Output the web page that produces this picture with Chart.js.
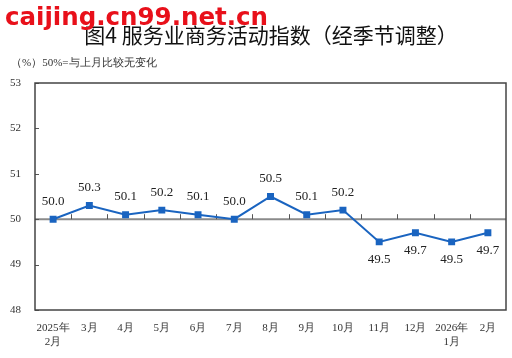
<!DOCTYPE html>
<html>
<head>
<meta charset="utf-8">
<script src="https://cdn.jsdelivr.net/npm/chart.js@4"></script>
<style>
  html, body { margin: 0; padding: 0; background: #fff; }
  #wrap { width: 512px; height: 358px; }
</style>
</head>
<body>
<div id="wrap"><canvas id="c"></canvas></div>
<script>
const months = [['2025年', '2月'], '3月', '4月', '5月', '6月', '7月', '8月', '9月', '10月', '11月', '12月', ['2026年', '1月'], '2月'];
const indexValues = [50.0, 50.3, 50.1, 50.2, 50.1, 50.0, 50.5, 50.1, 50.2, 49.5, 49.7, 49.5, 49.7];
const yTicks = [48, 49, 50, 51, 52, 53];
const baseLine = 50;

const serif = '"Liberation Serif", "DejaVu Serif", serif';
const cjk = '"Noto Sans CJK SC", sans-serif';

// texts, frame, 50 line and value labels
const decor = {
  id: 'decor',
  beforeDatasetsDraw(chart) {
    const { ctx, chartArea: a, scales } = chart;
    const y50 = scales.y.getPixelForValue(baseLine);
    ctx.save();
    // 50% line
    ctx.strokeStyle = '#8a8a8a';
    ctx.lineWidth = 2;
    ctx.beginPath();
    ctx.moveTo(a.left, y50);
    ctx.lineTo(a.right, y50);
    ctx.stroke();
    // little ticks between months
    ctx.strokeStyle = '#555';
    ctx.lineWidth = 1;
    const step = (a.right - a.left) / months.length;
    for (let k = 1; k < months.length; k++) {
      const x = Math.round(a.left + k * step) + 0.5;
      ctx.beginPath();
      ctx.moveTo(x, y50);
      ctx.lineTo(x, y50 - 5);
      ctx.stroke();
    }
    // small ticks on y axis
    yTicks.forEach(v => {
      const y = Math.round(scales.y.getPixelForValue(v)) + 0.5;
      ctx.beginPath();
      ctx.moveTo(a.left, y);
      ctx.lineTo(a.left + 4, y);
      ctx.stroke();
    });
    // frame
    ctx.strokeStyle = '#444';
    ctx.lineWidth = 1.5;
    ctx.strokeRect(a.left, a.top, a.right - a.left, a.bottom - a.top);
    ctx.restore();
  },
  afterDatasetsDraw(chart) {
    const { ctx } = chart;
    const pts = chart.getDatasetMeta(0).data;
    ctx.save();
    ctx.fillStyle = '#222';
    ctx.font = '13px ' + serif;
    ctx.textAlign = 'center';
    ctx.textBaseline = 'middle';
    pts.forEach((p, i) => {
      const v = indexValues[i];
      const dy = v >= baseLine ? -18 : 18;
      ctx.fillText(v.toFixed(1), p.x, p.y + dy);
    });
    ctx.restore();
  },
  afterDraw(chart) {
    const { ctx } = chart;
    ctx.save();
    ctx.textBaseline = 'middle';
    ctx.fillStyle = '#111';
    ctx.font = '21px ' + cjk;
    ctx.textAlign = 'center';
    ctx.fillText('图4 服务业商务活动指数（经季节调整）', 271, 35);
    ctx.textAlign = 'left';
    ctx.font = '11px ' + serif;
    ctx.fillStyle = '#333';
    ctx.fillText('（%）50%=与上月比较无变化', 11, 63);
    ctx.font = 'bold 24px "DejaVu Sans", sans-serif';
    ctx.fillStyle = '#e8101a';
    ctx.textBaseline = 'alphabetic';
    const w = ctx.measureText('caijing.cn99.net.cn').width;
    ctx.translate(5, 25);
    ctx.scale(263 / w, 1);
    ctx.fillText('caijing.cn99.net.cn', 0, 0);
    ctx.restore();
  }
};

new Chart(document.getElementById('c'), {
  type: 'line',
  data: {
    labels: months,
    datasets: [{
      data: indexValues,
      borderColor: '#1a64c0',
      backgroundColor: '#1a64c0',
      borderWidth: 2,
      pointStyle: 'rect',
      pointRadius: 3.5,
      pointHoverRadius: 3.5,
      tension: 0
    }]
  },
  options: {
    responsive: true,
    maintainAspectRatio: false,
    animation: false,
    events: [],
    layout: { padding: { top: 83, right: 6, left: 0, bottom: 0 } },
    plugins: { legend: { display: false }, tooltip: { enabled: false } },
    scales: {
      x: {
        type: 'category',
        offset: true,
        grid: { display: false },
        border: { display: false },
        ticks: {
          color: '#333',
          font: { family: serif, size: 11 },
          maxRotation: 0,
          autoSkip: false,
          padding: 4
        },
        afterFit(s) { s.height = 48; }
      },
      y: {
        min: 48,
        max: 53,
        afterBuildTicks(s) { s.ticks = yTicks.map(v => ({ value: v })); },
        grid: { display: false },
        border: { display: false },
        ticks: {
          color: '#333',
          font: { family: serif, size: 11 },
          padding: 6
        },
        afterFit(s) { s.width = 35; }
      }
    }
  },
  plugins: [decor]
});
</script>
</body>
</html>
